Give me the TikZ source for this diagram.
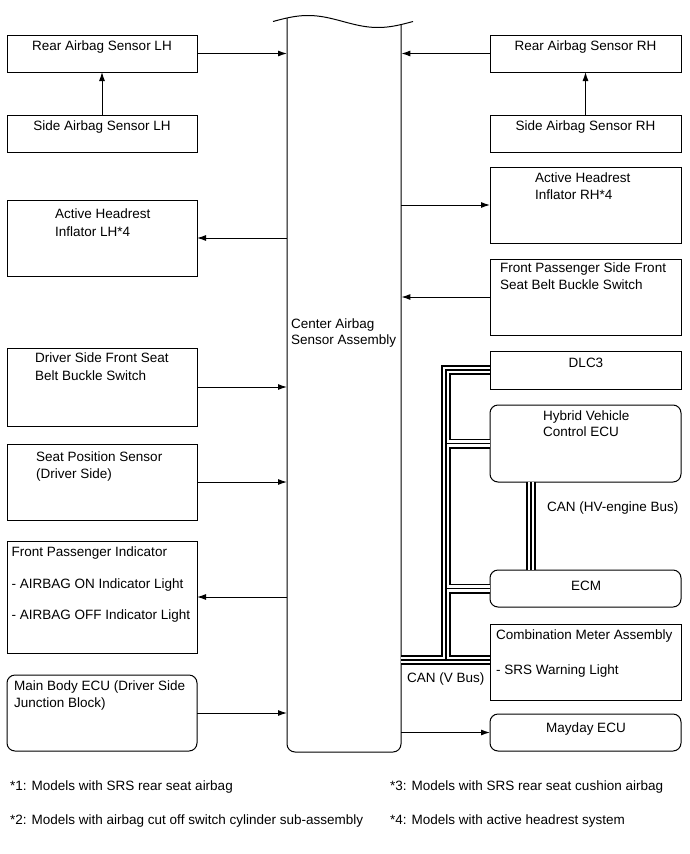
\documentclass[tikz,border=0pt]{standalone}
\usepackage{fontspec}
\setmainfont{Liberation Sans}
\usetikzlibrary{arrows.meta,calc}
\begin{document}
\begin{tikzpicture}[x=1pt,y=-1pt,
  box/.style={draw, line width=1pt, fill=white, anchor=north west, inner sep=0pt, outer sep=0pt},
  lbox/.style={box, minimum width=190pt},
  rbox/.style={box, minimum width=191pt},
  rnd/.style={rounded corners=8pt},
  txt/.style={inner sep=0pt, font=\fontsize{13.5}{16}\selectfont, anchor=base west},
  ctxt/.style={txt, anchor=base},
  arr/.style={line width=1pt, -{Latex[length=9pt,width=6pt]}},
  busA/.style={line width=10pt, black, line join=miter},
  busB/.style={line width=6.5pt, white, line join=miter},
  busC/.style={line width=1.6pt, black, line join=miter}
]
\useasboundingbox (0,0) rectangle (689,854);

% center box (outline drawn manually)
\node[inner sep=0pt, minimum width=114pt, minimum height=734pt, anchor=north west] (cb) at (287,18) {};
\draw[line width=1pt] plot[domain=0:140, samples=50, smooth] ({\x+273}, {21.5-6*sin(2.5714286*\x)});
\draw[line width=1pt, rounded corners=8pt] (287,18) -- (287,752) -- (401,752) -- (401,24.6);
\node[txt] (cbt1) at (291,328) {Center Airbag};
\node[txt] (cbt2) at (291,344) {Sensor Assembly};

% left boxes
\node[lbox, minimum height=37pt] (rl) at (7,35) {};
\node[ctxt] (rlt) at (102,50) {Rear Airbag Sensor LH};
\node[lbox, minimum height=37pt] (sl) at (7,115) {};
\node[ctxt] (slt) at (102,130) {Side Airbag Sensor LH};
\node[lbox, minimum height=76pt] (al) at (7,200) {};
\node[txt] (alt1) at (55,218) {Active Headrest};
\node[txt] (alt2) at (55,236) {Inflator LH*4};
\node[lbox, minimum height=78pt] (dl) at (7,348) {};
\node[txt] (dlt1) at (35,362) {Driver Side Front Seat};
\node[txt] (dlt2) at (35,380) {Belt Buckle Switch};
\node[lbox, minimum height=76pt] (sp) at (7,444) {};
\node[txt] (spt1) at (36,461) {Seat Position Sensor};
\node[txt] (spt2) at (36,478) {(Driver Side)};
\node[lbox, minimum height=112pt] (fp) at (7,541) {};
\node[txt] (fpt1) at (11.5,556) {Front Passenger Indicator};
\node[txt] (fpt2) at (11.5,588) {- AIRBAG ON Indicator Light};
\node[txt] (fpt3) at (11.5,619) {- AIRBAG OFF Indicator Light};
\node[lbox, rnd, minimum height=76pt] (mb) at (7,675) {};
\node[txt] (mbt1) at (14,690) {Main Body ECU (Driver Side};
\node[txt] (mbt2) at (14,707) {Junction Block)};

% right boxes
\node[rbox, minimum height=37pt] (rr) at (490,35) {};
\node[ctxt] (rrt) at (585.5,50) {Rear Airbag Sensor RH};
\node[rbox, minimum height=37pt] (sr) at (490,115) {};
\node[ctxt] (srt) at (585.5,130) {Side Airbag Sensor RH};
\node[rbox, minimum height=76pt] (ar) at (490,167) {};
\node[txt] (art1) at (535,182) {Active Headrest};
\node[txt] (art2) at (535,199) {Inflator RH*4};
\node[rbox, minimum height=76pt] (fb) at (490,259) {};
\node[txt] (fbt1) at (500,272) {Front Passenger Side Front};
\node[txt] (fbt2) at (500,289) {Seat Belt Buckle Switch};
\node[rbox, minimum height=38pt] (dlc) at (490,351) {};
\node[ctxt] (dlct) at (586,367) {DLC3};
\node[rbox, rnd, minimum height=77pt] (hv) at (490,405) {};
\node[txt] (hvt1) at (543,420) {Hybrid Vehicle};
\node[txt] (hvt2) at (543,436) {Control ECU};
\node[rbox, rnd, minimum height=37pt] (ecm) at (490,570) {};
\node[ctxt] (ecmt) at (586,590) {ECM};
\node[rbox, minimum height=76pt] (cm) at (490,624) {};
\node[txt] (cmt1) at (496,639) {Combination Meter Assembly};
\node[txt] (cmt2) at (496,674) {- SRS Warning Light};
\node[rbox, rnd, minimum height=37pt] (md) at (490,714) {};
\node[ctxt] (mdt) at (586,732) {Mayday ECU};

% arrows
\draw[arr] (rl.east) -- (rl.east -| cb.west);
\draw[arr] (sl.north) -- (rl.south);
\draw[arr] (al.east -| cb.west) -- (al.east);
\draw[arr] (dl.east) -- (dl.east -| cb.west);
\draw[arr] (sp.east) -- (sp.east -| cb.west);
\draw[arr] (fp.east -| cb.west) -- (fp.east);
\draw[arr] (mb.east) -- (mb.east -| cb.west);
\draw[arr] (rr.west) -- (rr.west -| cb.east);
\draw[arr] (sr.north) -- (rr.south);
\draw[arr] (ar.west -| cb.east) -- (ar.west);
\draw[arr] (fb.west) -- (fb.west -| cb.east);
\draw[arr] (md.west -| cb.east) -- (md.west);

% CAN buses
\coordinate (vb0) at (401,660);
\coordinate (vb1) at (490,660);
\coordinate (tb) at (446,660);
\coordinate (tt) at (446,370);
\coordinate (th) at (446,443.5);
\coordinate (te) at (446,588.5);
\coordinate (hb) at (531,482);
\coordinate (eb) at (531,570);
\foreach \s in {busA,busB,busC}{
  \draw[\s] (vb0) -- (vb1);
  \draw[\s] (tb) -- (tt) -- (dlc.west);
  \draw[\s] (th) -- (hv.west);
  \draw[\s] (te) -- (ecm.west);
  \draw[\s] (hb) -- (eb);
}
\node[txt] (canhv) at (547,511) {CAN (HV-engine Bus)};
\node[txt] (canv) at (407,682) {CAN (V Bus)};

% footnotes
\node[txt] (f1) at (10,790) {*1: Models with SRS rear seat airbag};
\node[txt] (f2) at (10,824) {*2: Models with airbag cut off switch cylinder sub-assembly};
\node[txt] (f3) at (390,790) {*3: Models with SRS rear seat cushion airbag};
\node[txt] (f4) at (390,824) {*4: Models with active headrest system};
\end{tikzpicture}
\end{document}
